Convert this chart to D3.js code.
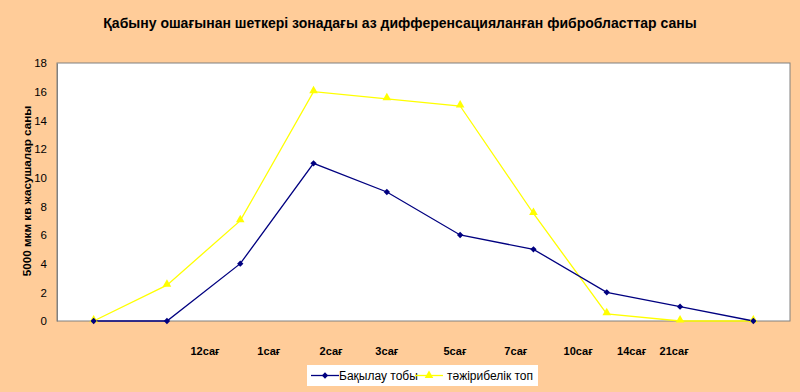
<!DOCTYPE html>
<html><head><meta charset="utf-8">
<script src="https://cdn.jsdelivr.net/npm/d3@7"></script>
<style>
html,body{margin:0;padding:0;background:#FFCC99;}
svg{display:block;}
text{font-family:"Liberation Sans",Arial,sans-serif;}
</style></head>
<body>
<svg id="chart" width="800" height="392"></svg>
<script>
const title = "Қабыну ошағынан шеткері зонадағы аз дифференсациялanған фибробласттар саны".replace("anған","анған");
const yTitle = "5000 мкм кв жасушалар саны";
const categories = ["p1","p2","p3","p4","p5","p6","p7","p8","p9","p10"];
const control = [0, 0, 4, 11, 9, 6, 5, 2, 1, 0];
const experiment = [0, 2.5, 7, 16, 15.5, 15, 7.5, 0.5, 0, 0];
const seriesNames = ["Бақылау тобы", "тәжірибелік топ"];
const yTicks = [0, 2, 4, 6, 8, 10, 12, 14, 16, 18];
const xLabels = ["12сағ","1сағ","2сағ","3сағ","5сағ","7сағ","10сағ","14сағ","21сағ"];
// layout: where each free-floating label sits, in category-index units
const xLabelPos = [1.52, 2.39, 3.24, 4.0, 4.93, 5.76, 6.61, 7.34, 7.92];

const svg = d3.select("#chart");
const plot = {left:57, right:790, top:63, bottom:321};

svg.append("rect").attr("width",800).attr("height",392).attr("fill","#FFCC99");

const x = d3.scaleBand().domain(categories).range([plot.left, plot.right]);
const xi = d3.scaleLinear().domain([0, categories.length-1])
  .range([x(categories[0])+x.bandwidth()/2, x(categories[categories.length-1])+x.bandwidth()/2]);
const y = d3.scaleLinear().domain([0,18]).range([plot.bottom, plot.top]);

// plot area
svg.append("rect").attr("x",plot.left).attr("y",plot.top)
  .attr("width",plot.right-plot.left).attr("height",plot.bottom-plot.top)
  .attr("fill","#ffffff").attr("stroke","#808080").attr("stroke-width",1);

// title
svg.append("text").attr("x",400).attr("y",28).attr("text-anchor","middle")
  .attr("font-size","14px").attr("font-weight","bold").attr("fill","#000").text(title);

// y axis
const yAxis = d3.axisLeft(y).tickValues(yTicks).tickSize(0).tickPadding(10);
const ga = svg.append("g").attr("transform",`translate(${plot.left},0)`).call(yAxis);
ga.select(".domain").attr("stroke","#808080");
ga.selectAll("text").attr("font-size","11.5px").attr("fill","#000")
  .attr("font-family","'Liberation Sans',Arial,sans-serif");

svg.append("text").attr("transform",`translate(27,${(plot.top+plot.bottom)/2 - 1}) rotate(-90)`)
  .attr("text-anchor","middle").attr("dy","0.35em")
  .attr("font-size","11.7px").attr("font-weight","bold").text(yTitle);

// x labels
svg.append("g").selectAll("text").data(xLabels).join("text")
  .attr("x",(d,i)=>xi(xLabelPos[i])).attr("y",355).attr("text-anchor","middle")
  .attr("font-size","11px").attr("font-weight","bold").text(d=>d);

const line = d3.line().x((d,i)=>x(categories[i])+x.bandwidth()/2).y(d=>y(d));

// experiment series (yellow) drawn first
svg.append("path").datum(experiment).attr("d",line).attr("fill","none")
  .attr("stroke","#FFFF00").attr("stroke-width",1.3);
// control series
svg.append("path").datum(control).attr("d",line).attr("fill","none")
  .attr("stroke","#000080").attr("stroke-width",1.3);

const tri = d3.symbol().type(d3.symbolTriangle).size(32);
const dia = d3.symbol().type(d3.symbolSquare).size(20);

svg.append("g").selectAll("path").data(experiment).join("path")
  .attr("d",tri)
  .attr("transform",(d,i)=>`translate(${x(categories[i])+x.bandwidth()/2},${y(d)-1})`)
  .attr("fill","#FFFF00");
svg.append("g").selectAll("path").data(control).join("path")
  .attr("d",dia)
  .attr("transform",(d,i)=>`translate(${x(categories[i])+x.bandwidth()/2},${y(d)}) rotate(45)`)
  .attr("fill","#000080");

// legend
const lg = svg.append("g").attr("transform","translate(307,365)");
lg.append("rect").attr("width",231).attr("height",21).attr("fill","#ffffff");
const items = [{name:seriesNames[0],color:"#000080",sym:dia,rot:45,x0:4,tx:32},
               {name:seriesNames[1],color:"#FFFF00",sym:tri,rot:0,x0:108,tx:140}];
items.forEach(it=>{
  lg.append("line").attr("x1",it.x0).attr("x2",it.x0+28).attr("y1",10.5).attr("y2",10.5)
    .attr("stroke",it.color).attr("stroke-width",1.3);
  lg.append("path").attr("d",it.sym).attr("transform",`translate(${it.x0+14},${10.5}) rotate(${it.rot})`).attr("fill",it.color);
  lg.append("text").attr("x",it.tx).attr("y",14.5).attr("font-size","12px").text(it.name);
});
</script>
</body></html>
